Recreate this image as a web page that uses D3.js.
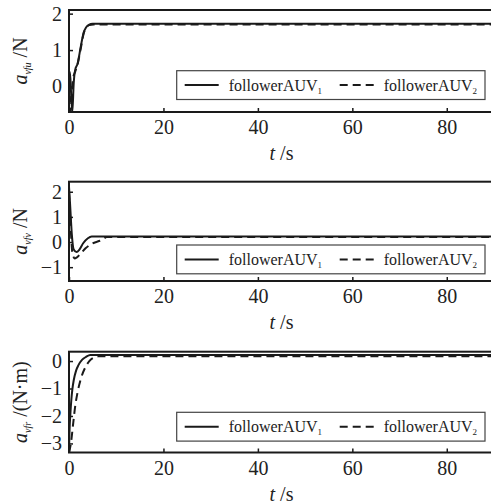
<!DOCTYPE html>
<html>
<head>
<meta charset="utf-8">
<script src="https://cdn.jsdelivr.net/npm/d3@7"></script>
<style>
  body { margin: 0; background: #fff; }
  svg { display: block; }
  svg text { font-family: 'Liberation Serif', 'Times New Roman', serif; }
</style>
</head>
<body>
<div class="formationGraph"></div>
<script>
// time axis ticks (s)
const timeTicks = [0, 20, 40, 60, 80];

// panel 1 : a_vfu (N)
const tU1 = [0, 0.2, 0.45, 0.7, 1.0, 1.3, 1.8, 2.5, 3.1, 3.6, 4.2, 5.0, 90];
const uAUV1 = [0.3, 0.4, -0.2, -0.7, 0.1, 0.45, 0.62, 1.1, 1.48, 1.62, 1.69, 1.72, 1.72];
const tU2 = [0, 0.3, 0.6, 0.9, 1.3, 1.8, 2.5, 3.1, 3.7, 4.3, 5.2, 90];
const uAUV2 = [0.1, -0.7, -0.2, 0.25, 0.4, 0.6, 1.05, 1.45, 1.62, 1.69, 1.7, 1.7];
const uTicks = [0, 1, 2];

// panel 2 : a_vfv (N)
const tV1 = [0, 0.2, 0.6, 1.0, 1.6, 2.2, 3.0, 4.0, 4.8, 90];
const vAUV1 = [2.2, 1.6, 0.3, -0.3, -0.4, -0.3, -0.05, 0.15, 0.22, 0.22];
const tV2 = [0, 0.3, 0.7, 1.2, 1.6, 2.5, 3.5, 5.0, 6.5, 7.2, 8.0, 90];
const vAUV2 = [2.0, 0.8, -0.4, -0.65, -0.62, -0.45, -0.25, -0.05, 0.05, 0.12, 0.2, 0.2];
const vTicks = [-1, 0, 1, 2];

// panel 3 : a_vfr (N·m)
const tR1 = [0, 0.1, 0.3, 0.5, 0.7, 1.0, 1.5, 2.0, 2.8, 3.6, 4.5, 90];
const rAUV1 = [-3.33, -2.6, -1.9, -1.4, -1.05, -0.7, -0.35, -0.15, 0.05, 0.15, 0.22, 0.22];
const tR2 = [0, 0.4, 0.9, 1.3, 1.8, 2.5, 3.4, 4.3, 5.2, 6.2, 90];
const rAUV2 = [-3.33, -3.0, -2.25, -1.66, -1.15, -0.65, -0.25, 0.0, 0.12, 0.17, 0.17];
const rTicks = [-3, -2, -1, 0];

const seriesNames = ['followerAUV', 'followerAUV'];
const seriesSubs = ['1', '2'];

function formationGraph() {
    const width = 491, height = 504;
    const left = 69, right = 494;
    const ink = '#1a1a1a';
    const serif = "'Liberation Serif', 'Times New Roman', serif";

    const svg = d3.select('.formationGraph')
        .append('svg')
        .attr('width', width)
        .attr('height', height)
        .attr('font-family', serif);

    svg.append('defs').append('clipPath')
        .attr('id', 'plotClip')
        .append('rect')
        .attr('x', left).attr('y', 0)
        .attr('width', right - left).attr('height', height);

    const scaleX = d3.scaleLinear()
        .domain([0, 90])
        .range([left, right]);

    // panels: data + layout
    const panels = [
        {t1: tU1, y1: uAUV1, t2: tU2, y2: uAUV2, ticks: uTicks, domain: [-0.7, 2.1],
         top: 10, bottom: 112, legendTop: 70.7, sub: 'vfu', unit: ' /N'},
        {t1: tV1, y1: vAUV1, t2: tV2, y2: vAUV2, ticks: vTicks, domain: [-1.55, 2.4],
         top: 181.7, bottom: 281, legendTop: 245, sub: 'vfv', unit: ' /N'},
        {t1: tR1, y1: rAUV1, t2: tR2, y2: rAUV2, ticks: rTicks, domain: [-3.33, 0.34],
         top: 351.7, bottom: 452.5, legendTop: 412.3, sub: 'vfr', unit: ' /(N\u00b7m)'}
    ];

    panels.forEach(p => {
        const scaleY = d3.scaleLinear()
            .domain(p.domain)
            .range([p.bottom, p.top]);

        const g = svg.append('g');

        // curves
        const line = d3.line()
            .x(d => scaleX(d[0]))
            .y(d => scaleY(d[1]))
            .curve(d3.curveMonotoneX);

        const curves = g.append('g').attr('clip-path', 'url(#plotClip)');
        curves.append('path')
            .datum(p.t1.map((t, i) => [t, p.y1[i]]))
            .attr('d', line)
            .attr('fill', 'none')
            .attr('stroke', ink)
            .attr('stroke-width', 2);
        curves.append('path')
            .datum(p.t2.map((t, i) => [t, p.y2[i]]))
            .attr('d', line)
            .attr('fill', 'none')
            .attr('stroke', ink)
            .attr('stroke-width', 2)
            .attr('stroke-dasharray', '8,5');

        // axes
        const axB = g.append('g')
            .attr('transform', `translate(0, ${p.bottom})`)
            .call(d3.axisBottom(scaleX).tickValues(timeTicks).tickSize(-4).tickPadding(8));
        const axL = g.append('g')
            .attr('transform', `translate(${left}, 0)`)
            .call(d3.axisLeft(scaleY).tickValues(p.ticks).tickSize(-4).tickPadding(7)
                .tickFormat(d => d < 0 ? '\u2212' + Math.abs(d) : d));
        [axB, axL].forEach(ax => {
            ax.attr('font-family', serif).attr('font-size', 20);
            ax.select('.domain').remove();
            ax.selectAll('line').attr('stroke', ink).attr('stroke-width', 1.5);
            ax.selectAll('text').attr('fill', '#222');
        });

        // frame (right edge falls outside the window)
        g.append('rect')
            .attr('x', left).attr('y', p.top)
            .attr('width', right - left).attr('height', p.bottom - p.top)
            .attr('fill', 'none')
            .attr('stroke', ink)
            .attr('stroke-width', 2);

        // x title
        const xt = g.append('text')
            .attr('x', (left + right) / 2)
            .attr('y', p.bottom + 48)
            .attr('text-anchor', 'middle')
            .attr('fill', '#222')
            .attr('font-size', 20);
        xt.append('tspan').attr('font-style', 'italic').text('t');
        xt.append('tspan').text(' /s');

        // y title
        const yt = g.append('text')
            .attr('transform', `translate(27, ${(p.top + p.bottom) / 2}) rotate(-90)`)
            .attr('text-anchor', 'middle')
            .attr('fill', '#222')
            .attr('font-size', 20);
        yt.append('tspan').attr('font-style', 'italic').text('a');
        yt.append('tspan').attr('font-style', 'italic').attr('font-size', 10)
            .attr('dy', 4).text(p.sub);
        yt.append('tspan').attr('dy', -4).text(p.unit);

        // legend
        const lg = g.append('g').attr('transform', `translate(176.7, ${p.legendTop})`);
        lg.append('rect')
            .attr('width', 308.3).attr('height', 28.8)
            .attr('fill', '#fff')
            .attr('stroke', '#444')
            .attr('stroke-width', 1.2);
        const entries = [{x: 8, dash: null}, {x: 163, dash: '8,5'}];
        entries.forEach((e, i) => {
            lg.append('line')
                .attr('x1', e.x).attr('x2', e.x + 34)
                .attr('y1', 14.4).attr('y2', 14.4)
                .attr('stroke', ink)
                .attr('stroke-width', 2)
                .attr('stroke-dasharray', e.dash);
            const tx = lg.append('text')
                .attr('x', e.x + 44)
                .attr('y', 20)
                .attr('fill', '#222')
                .attr('font-size', 16);
            tx.append('tspan').text(seriesNames[i]);
            tx.append('tspan').attr('font-size', 9).attr('dy', 3).text(seriesSubs[i]);
        });
    });
}

formationGraph();
</script>
</body>
</html>
